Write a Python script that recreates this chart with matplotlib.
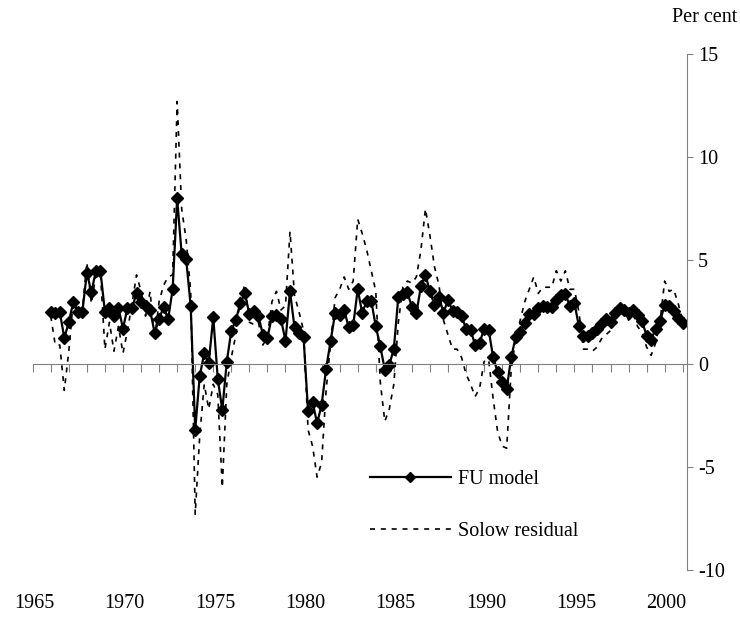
import matplotlib
matplotlib.use("Agg")
import matplotlib.pyplot as plt
import matplotlib.transforms as mtransforms
import numpy as np

plt.rcParams['font.family'] = ['Liberation Serif', 'DejaVu Serif']
plt.rcParams['axes.unicode_minus'] = False

# quarterly data, 1966Q1 .. 2001Q1 (per cent)
first_year = 1966.0
fu_model = [
    2.5, 2.45, 2.5, 1.25, 2.0, 3.0, 2.5, 2.5, 4.4, 3.45,
    4.5, 4.5, 2.5, 2.7, 2.3, 2.7, 1.7, 2.7, 2.7, 3.4,
    3.0, 2.8, 2.6, 1.5, 2.15, 2.75, 2.15, 3.6, 8.0, 5.3,
    5.05, 2.8, -3.2, -0.6, 0.5, 0.05, 2.25, -0.75, -2.25, 0.1,
    1.6, 2.1, 2.95, 3.4, 2.4, 2.55, 2.3, 1.4, 1.25, 2.3,
    2.35, 2.15, 1.1, 3.5, 1.75, 1.5, 1.3, -2.3, -1.85, -2.9,
    -2.0, -0.25, 1.1, 2.45, 2.35, 2.6, 1.75, 1.85, 3.6, 2.45,
    3.05, 3.05, 1.8, 0.85, -0.3, -0.05, 0.7, 3.25, 3.35, 3.45,
    2.75, 2.45, 3.75, 4.3, 3.5, 2.85, 3.25, 2.45, 3.1, 2.55,
    2.5, 2.3, 1.7, 1.65, 0.9, 1.0, 1.7, 1.65, 0.3, -0.4,
    -0.9, -1.25, 0.3, 1.3, 1.55, 1.95, 2.4, 2.4, 2.7, 2.8,
    2.72, 2.72, 3.1, 3.3, 3.35, 2.8, 2.95, 1.8, 1.35, 1.35,
    1.5, 1.7, 1.9, 2.15, 2.0, 2.45, 2.7, 2.6, 2.45, 2.6,
    2.35, 2.05, 1.35, 1.15, 1.7, 2.05, 2.85, 2.8, 2.55, 2.2,
    1.95,
]
solow_residual = [
    2.3, 0.9, 0.9, -1.3, 0.6, 3.1, 2.5, 2.6, 4.9, 2.9,
    4.3, 4.4, 0.7, 2.0, 0.6, 1.8, 0.5, 1.6, 2.9, 4.3,
    3.5, 2.3, 3.5, 1.2, 3.0, 3.8, 4.2, 4.3, 12.7, 7.5,
    6.0, 3.5, -7.3, -3.5, -1.0, -2.2, -1.0, -1.5, -6.0, -1.0,
    0.3, 1.4, 3.2, 3.8, 2.0, 1.9, 2.0, 0.9, 1.3, 3.0,
    3.5, 2.6, 2.8, 6.4, 3.3, 2.5, 1.6, -3.2, -4.0, -5.5,
    -4.8, -1.3, 1.0, 3.2, 3.6, 4.2, 3.6, 4.0, 7.0, 6.3,
    5.5, 4.5, 3.5, -0.9, -2.8, -2.2, -1.0, 2.0, 3.7, 4.0,
    3.9, 4.2, 5.5, 7.5, 6.2, 4.7, 3.8, 2.1, 1.4, 0.7,
    0.7, 0.3, -0.5, -1.0, -1.6, -1.2, 0.1, 0.2, -1.7, -3.3,
    -4.0, -4.1, -0.3, 1.2, 2.1, 3.0, 3.6, 4.2, 3.4, 3.7,
    3.7, 3.7, 4.5, 4.0, 4.5, 3.6, 3.6, 2.5, 0.7, 0.7,
    0.6, 0.8, 1.2, 1.4, 1.6, 2.2, 2.6, 2.7, 2.1, 2.4,
    1.8, 1.5, 0.8, 0.4, 1.0, 2.1, 4.0, 3.5, 3.6, 2.9,
    2.1,
]
year_labels = [1965, 1970, 1975, 1980, 1985, 1990, 1995, 2000]
y_ticks = [-10, -5, 0, 5, 10, 15]

t = first_year + 0.25 * np.arange(len(fu_model))

W, H = 740, 622
fig = plt.figure(figsize=(W / 100, H / 100), dpi=100)
ax = fig.add_axes([32.7 / W, 52 / H, (686.7 - 32.7) / W, 516 / H])
ax.set_xlim(1965, 2001.22)
ax.set_ylim(-10, 15)

l_solow, = ax.plot(t, solow_residual, color='black', lw=1.2, ls=(0, (3, 3.5)),
                   label='Solow residual')
l_fu, = ax.plot(t, fu_model, color='black', lw=1.6, marker='D', ms=6.5,
                label='FU model')

# axes: value axis on the right, category axis through zero
for s in ['top', 'left']:
    ax.spines[s].set_visible(False)
ax.spines['right'].set_color('#808080')
ax.spines['bottom'].set_color('#808080')
ax.spines['bottom'].set_position(('data', 0))
ax.yaxis.tick_right()
ax.set_yticks(y_ticks)
ax.tick_params(axis='y', direction='out', length=4, pad=4, labelsize=14.5,
               color='#808080')
ax.set_xticks(range(1965, 2002))
ax.tick_params(axis='x', direction='out', length=5.5, color='#808080',
               labelbottom=False)

tr = mtransforms.blended_transform_factory(ax.transData, fig.transFigure)
for yr in year_labels:
    ax.text(yr + 0.1, 1 - 603 / H, str(yr), transform=tr, ha='center', va='center',
            fontsize=14.5)

fig.text(705 / W, 1 - 18 / H, 'Per cent', ha='center', va='center', fontsize=14.5)

ax.legend([l_fu, l_solow], ['FU model', 'Solow residual'], frameon=False,
          loc='upper left', bbox_to_anchor=(370 / W, 1 - 470 / H),
          bbox_transform=fig.transFigure, fontsize=14.5, handlelength=4,
          handletextpad=0.35, labelspacing=1.65, borderpad=0, borderaxespad=0,
          markerscale=0.8)

fig.savefig('out.png', dpi=100)
